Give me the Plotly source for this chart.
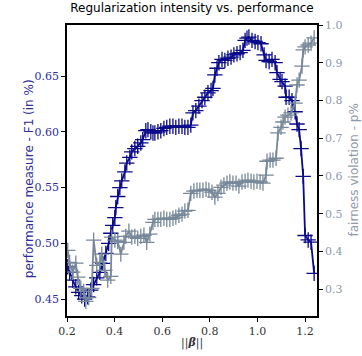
import plotly.graph_objects as go

# ||beta|| values and F1 (left axis)
beta_f1 = [0.203, 0.211, 0.224, 0.237, 0.249, 0.262, 0.274, 0.287, 0.300, 0.312,
           0.325, 0.338, 0.350, 0.363, 0.375, 0.384, 0.392, 0.401, 0.405, 0.413,
           0.422, 0.430, 0.443, 0.451, 0.464, 0.472, 0.485, 0.497, 0.510, 0.518,
           0.531, 0.540, 0.552, 0.561, 0.569, 0.582, 0.594, 0.607, 0.619, 0.632,
           0.645, 0.657, 0.670, 0.683, 0.695, 0.708, 0.720, 0.729, 0.741, 0.754,
           0.767, 0.779, 0.792, 0.805, 0.813, 0.821, 0.830, 0.838, 0.851, 0.863,
           0.876, 0.889, 0.901, 0.914, 0.927, 0.939, 0.948, 0.956, 0.964, 0.977,
           0.990, 1.002, 1.015, 1.028, 1.036, 1.049, 1.061, 1.074, 1.082, 1.095,
           1.103, 1.116, 1.120, 1.133, 1.145, 1.158, 1.166, 1.175, 1.183, 1.192,
           1.200, 1.213, 1.225, 1.238]
f1 = [0.479, 0.474, 0.467, 0.461, 0.456, 0.453, 0.450, 0.452, 0.458, 0.463,
      0.469, 0.474, 0.482, 0.491, 0.500, 0.509, 0.516, 0.523, 0.532, 0.542,
      0.550, 0.556, 0.564, 0.572, 0.577, 0.582, 0.585, 0.587, 0.590, 0.593,
      0.601, 0.602, 0.600, 0.599, 0.599, 0.600, 0.601, 0.603, 0.604, 0.605,
      0.605, 0.604, 0.605, 0.605, 0.604, 0.604, 0.606, 0.617, 0.619, 0.623,
      0.628, 0.631, 0.635, 0.637, 0.639, 0.651, 0.657, 0.662, 0.665, 0.664,
      0.666, 0.667, 0.669, 0.670, 0.671, 0.673, 0.682, 0.684, 0.685, 0.682,
      0.681, 0.680, 0.679, 0.669, 0.664, 0.663, 0.665, 0.662, 0.653, 0.647,
      0.645, 0.641, 0.631, 0.631, 0.628, 0.618, 0.607, 0.602, 0.585, 0.560,
      0.507, 0.503, 0.501, 0.473]

# ||beta|| values and fairness violation p% (right axis)
beta_pv = [0.203, 0.211, 0.224, 0.237, 0.245, 0.258, 0.270, 0.279, 0.291, 0.304,
           0.312, 0.325, 0.338, 0.346, 0.359, 0.371, 0.384, 0.388, 0.401, 0.413,
           0.426, 0.439, 0.447, 0.460, 0.472, 0.485, 0.497, 0.510, 0.523, 0.535,
           0.548, 0.561, 0.569, 0.582, 0.594, 0.607, 0.619, 0.632, 0.645, 0.657,
           0.670, 0.683, 0.695, 0.708, 0.720, 0.733, 0.746, 0.758, 0.771, 0.784,
           0.796, 0.809, 0.821, 0.834, 0.847, 0.859, 0.872, 0.884, 0.897, 0.910,
           0.922, 0.935, 0.948, 0.960, 0.973, 0.985, 0.998, 1.011, 1.023, 1.036,
           1.040, 1.053, 1.065, 1.078, 1.086, 1.099, 1.107, 1.116, 1.128, 1.141,
           1.158, 1.166, 1.175, 1.187, 1.192, 1.200, 1.213, 1.225, 1.238]
pviol = [0.403, 0.371, 0.345, 0.369, 0.332, 0.302, 0.294, 0.268, 0.278, 0.302,
         0.430, 0.363, 0.371, 0.393, 0.350, 0.324, 0.334, 0.438, 0.430, 0.427,
         0.393, 0.424, 0.440, 0.454, 0.438, 0.440, 0.435, 0.440, 0.443, 0.424,
         0.446, 0.477, 0.485, 0.485, 0.485, 0.488, 0.485, 0.485, 0.488, 0.491,
         0.496, 0.499, 0.507, 0.509, 0.554, 0.560, 0.562, 0.562, 0.562, 0.565,
         0.562, 0.557, 0.544, 0.554, 0.570, 0.576, 0.581, 0.584, 0.581, 0.581,
         0.573, 0.584, 0.586, 0.589, 0.586, 0.584, 0.586, 0.584, 0.581, 0.602,
         0.639, 0.642, 0.642, 0.647, 0.714, 0.729, 0.743, 0.756, 0.761, 0.767,
         0.793, 0.841, 0.854, 0.891, 0.934, 0.942, 0.947, 0.952, 0.966]

x_ticks = [0.2, 0.4, 0.6, 0.8, 1.0, 1.2]
left_ticks = [0.45, 0.50, 0.55, 0.60, 0.65]
right_ticks = [0.3, 0.4, 0.5, 0.6, 0.7, 0.8, 0.9, 1.0]

BLUE = "#0a0a8a"
GRAY = "#778899"
BLUE_TXT = "#2e2e9c"
GRAY_TXT = "#8e9aab"
SERIF = "'DejaVu Serif', 'Liberation Serif', serif"
SANS = "'DejaVu Sans', Verdana, sans-serif"

fig = go.Figure()
fig.add_trace(go.Scatter(
    x=beta_f1, y=f1, mode="lines+markers", yaxis="y",
    line=dict(color=BLUE, width=1.8),
    marker=dict(symbol="cross-thin", size=11, line=dict(color=BLUE, width=1.3)),
    showlegend=False))
fig.add_trace(go.Scatter(
    x=beta_pv, y=pviol, mode="lines+markers", yaxis="y2",
    line=dict(color=GRAY, width=1.8),
    marker=dict(symbol="cross-thin", size=11, line=dict(color=GRAY, width=1.3)),
    showlegend=False))

fig.update_layout(
    width=362, height=356,
    margin=dict(l=67, r=45, t=25, b=40),
    paper_bgcolor="white", plot_bgcolor="white",
    font=dict(family=SANS, size=12),
    title=dict(text="Regularization intensity vs. performance",
               x=0.5, xref="paper", xanchor="center",
               y=1, yref="container", yanchor="top", pad=dict(t=4),
               font=dict(family=SANS, size=12, color="black")),
    xaxis=dict(range=[0.2, 1.25], tickvals=x_ticks,
               ticktext=[f"{v:.1f}" for v in x_ticks],
               ticks="outside", ticklen=4, tickwidth=1, tickcolor="black",
               showline=True, linecolor="black", linewidth=1.5, mirror=True,
               showgrid=False, zeroline=False, automargin=False,
               tickfont=dict(family=SERIF, size=11, color="#333333")),
    yaxis=dict(range=[0.4348, 0.6958], tickvals=left_ticks,
               ticktext=[f"{v:.2f}" for v in left_ticks],
               ticks="outside", ticklen=4, tickwidth=1, tickcolor="black",
               showline=True, linecolor="black", linewidth=1.5,
               showgrid=False, zeroline=False, automargin=False,
               tickfont=dict(family=SERIF, size=11, color=BLUE_TXT)),
    yaxis2=dict(range=[0.229, 1.0], tickvals=right_ticks,
                ticktext=[f"{v:.1f}" for v in right_ticks],
                overlaying="y", side="right",
                ticks="outside", ticklen=4, tickwidth=1, tickcolor="black",
                showline=True, linecolor="black", linewidth=1.5,
                showgrid=False, zeroline=False, automargin=False,
                tickfont=dict(family=SERIF, size=11, color=GRAY_TXT)),
    annotations=[
        dict(text="performance measure - F1 (in %)", xref="paper", yref="paper",
             x=0, y=0.47, xanchor="center", yanchor="middle", xshift=-38,
             textangle=-90, showarrow=False,
             font=dict(family=SANS, size=12, color=BLUE_TXT)),
        dict(text="fairness violation - p%", xref="paper", yref="paper",
             x=1, y=0.5, xanchor="center", yanchor="middle", xshift=36,
             textangle=-90, showarrow=False,
             font=dict(family=SANS, size=12, color=GRAY_TXT)),
        dict(text="||<b><i>β</i></b>||", xref="paper", yref="paper",
             x=0.5, y=0, xanchor="center", yanchor="middle", yshift=-27,
             showarrow=False,
             font=dict(family=SERIF, size=11, color="#333333")),
    ],
)

fig.write_html("out.html")
